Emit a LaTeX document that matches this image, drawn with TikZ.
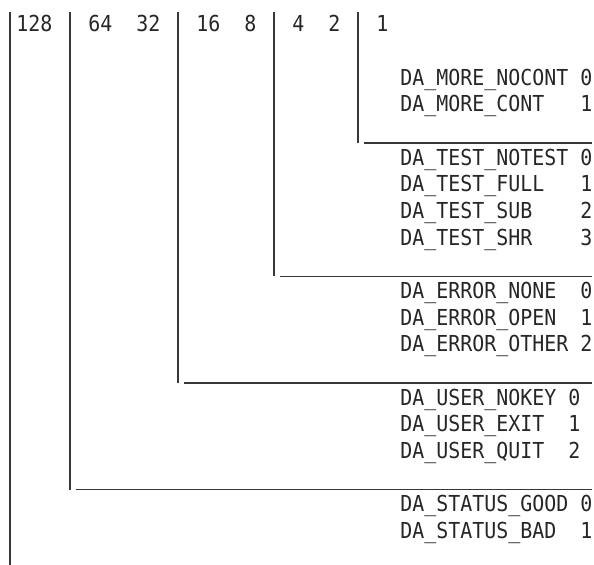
\documentclass[tikz,border=0pt]{standalone}
\usepackage{fontspec}
\setmonofont[FakeStretch=0.906]{DejaVu Sans Mono}
\usepackage{xcolor}
\usepackage{tikz}
\definecolor{inkgray}{RGB}{38, 38, 38}
\definecolor{rulegray}{RGB}{55, 55, 55}

\begin{document}
\begin{tikzpicture}[x=6pt, y=-13.333pt,
  cell/.style={anchor=base west, inner sep=0pt, text=inkgray,
    font=\ttfamily\fontsize{11pt}{13pt}\selectfont},
  bar/.style={line width=1pt, rulegray},
  rule/.style={line width=0.75pt, rulegray}]
\useasboundingbox (-0.333,-1.2) rectangle (49.167,19.985);

% Bit weights
\node[cell] (w128) at (1,0) {128};
\node[cell] (w64) at (7,0) {64};
\node[cell] (w32) at (11,0) {32};
\node[cell] (w16) at (16,0) {16};
\node[cell] (w8) at (20,0) {8};
\node[cell] (w4) at (24,0) {4};
\node[cell] (w2) at (27,0) {2};
\node[cell] (w1) at (31,0) {1};

% Field separators
\draw[bar] (0.5,-0.75) -- (0.5,19.985);
\draw[bar] (5.5,-0.75) -- (5.5,17.16);
\draw[bar] (14.5,-0.75) -- (14.5,13.16);
\draw[bar] (22.5,-0.75) -- (22.5,9.16);
\draw[bar] (29.5,-0.75) -- (29.5,4.16);

% Field ends
\draw[rule] (30,4.16) -- (49,4.16);
\draw[rule] (23,9.16) -- (49,9.16);
\draw[rule] (15,13.16) -- (49,13.16);
\draw[rule] (6,17.16) -- (49,17.16);

% More flag
\node[cell] (more0) at (33,2) {DA\_MORE\_NOCONT};
\node[cell] (more0v) at (48,2) {0};
\node[cell] (more1) at (33,3) {DA\_MORE\_CONT};
\node[cell] (more1v) at (48,3) {1};

% Test flags
\node[cell] (test0) at (33,5) {DA\_TEST\_NOTEST};
\node[cell] (test0v) at (48,5) {0};
\node[cell] (test1) at (33,6) {DA\_TEST\_FULL};
\node[cell] (test1v) at (48,6) {1};
\node[cell] (test2) at (33,7) {DA\_TEST\_SUB};
\node[cell] (test2v) at (48,7) {2};
\node[cell] (test3) at (33,8) {DA\_TEST\_SHR};
\node[cell] (test3v) at (48,8) {3};

% Error flags
\node[cell] (err0) at (33,10) {DA\_ERROR\_NONE};
\node[cell] (err0v) at (48,10) {0};
\node[cell] (err1) at (33,11) {DA\_ERROR\_OPEN};
\node[cell] (err1v) at (48,11) {1};
\node[cell] (err2) at (33,12) {DA\_ERROR\_OTHER};
\node[cell] (err2v) at (48,12) {2};

% User flags
\node[cell] (user0) at (33,14) {DA\_USER\_NOKEY};
\node[cell] (user0v) at (47,14) {0};
\node[cell] (user1) at (33,15) {DA\_USER\_EXIT};
\node[cell] (user1v) at (47,15) {1};
\node[cell] (user2) at (33,16) {DA\_USER\_QUIT};
\node[cell] (user2v) at (47,16) {2};

% Status flags
\node[cell] (stat0) at (33,18) {DA\_STATUS\_GOOD};
\node[cell] (stat0v) at (48,18) {0};
\node[cell] (stat1) at (33,19) {DA\_STATUS\_BAD};
\node[cell] (stat1v) at (48,19) {1};
\end{tikzpicture}
\end{document}
